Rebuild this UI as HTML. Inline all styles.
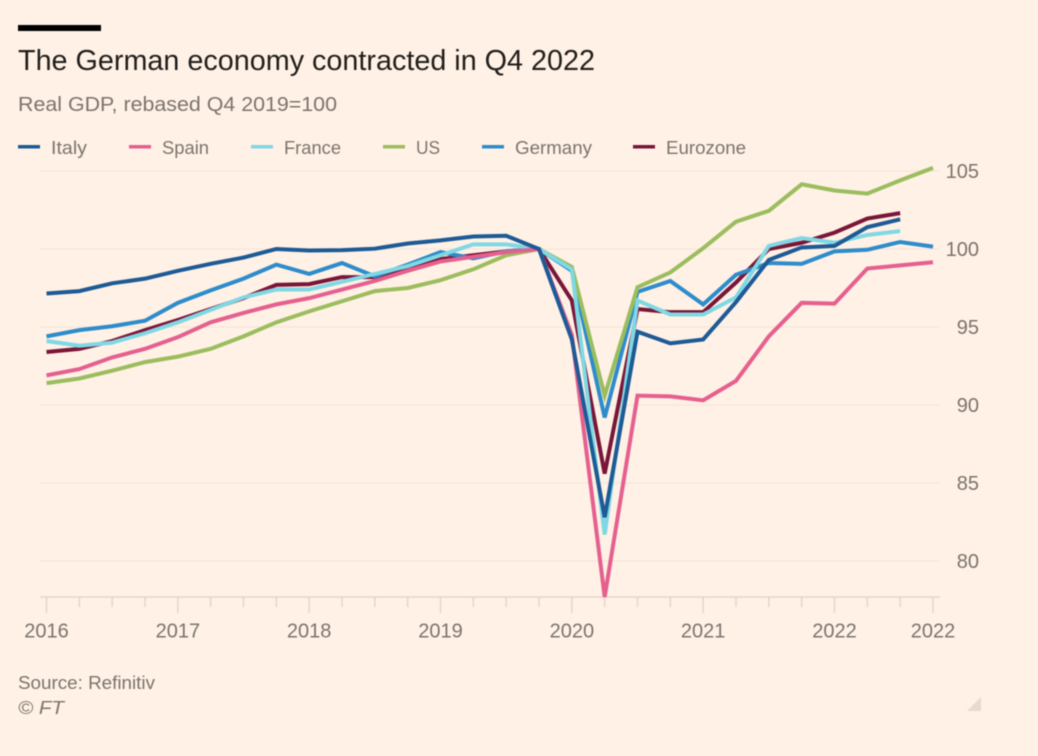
<!DOCTYPE html>
<html lang="en">
<head>
<meta charset="utf-8">
<title>The German economy contracted in Q4 2022</title>
<style>
html,body{margin:0;padding:0;background:#fff1e5;}
body{width:1038px;height:756px;overflow:hidden;}
svg{display:block;font-family:"Liberation Sans",sans-serif;filter:blur(0.4px);}
</style>
</head>
<body>
<svg id="chart" width="1038" height="756" viewBox="0 0 1038 756" xmlns="http://www.w3.org/2000/svg">
  <rect x="0" y="0" width="1038" height="756" fill="#fff1e5"/>
  <rect x="18" y="25" width="83" height="6" fill="#000"/>
  <text x="18" y="70" font-size="29" fill="#211e1c" textLength="577" lengthAdjust="spacingAndGlyphs">The German economy contracted in Q4 2022</text>
  <text x="18" y="111" font-size="20" fill="#7b746e" textLength="319" lengthAdjust="spacingAndGlyphs">Real GDP, rebased Q4 2019=100</text>

  <g font-size="18.5" fill="#7b746e">
    <g>
      <rect x="18" y="145" width="22" height="3.5" fill="#1d5a96"/>
      <text x="51" y="154" textLength="36" lengthAdjust="spacingAndGlyphs">Italy</text>
    </g>
    <g>
      <rect x="129" y="145" width="22" height="3.5" fill="#e5608f"/>
      <text x="162" y="154" textLength="47" lengthAdjust="spacingAndGlyphs">Spain</text>
    </g>
    <g>
      <rect x="251" y="145" width="22" height="3.5" fill="#7fd8e4"/>
      <text x="284" y="154" textLength="57" lengthAdjust="spacingAndGlyphs">France</text>
    </g>
    <g>
      <rect x="383" y="145" width="22" height="3.5" fill="#9bbd5e"/>
      <text x="416" y="154" textLength="24" lengthAdjust="spacingAndGlyphs">US</text>
    </g>
    <g>
      <rect x="482" y="145" width="22" height="3.5" fill="#2e8ccb"/>
      <text x="515" y="154" textLength="77" lengthAdjust="spacingAndGlyphs">Germany</text>
    </g>
    <g>
      <rect x="633" y="145" width="22" height="3.5" fill="#7a1638"/>
      <text x="666" y="154" textLength="80" lengthAdjust="spacingAndGlyphs">Eurozone</text>
    </g>
  </g>

  <g id="grid"></g>
  <g id="yaxis"></g>
  <g id="xaxis"></g>
  <g id="series"></g>

  <text x="18" y="689" font-size="18" fill="#7b746e" textLength="137" lengthAdjust="spacingAndGlyphs">Source: Refinitiv</text>
  <text x="18" y="714" font-size="18" font-style="italic" fill="#7b746e" textLength="46" lengthAdjust="spacingAndGlyphs">© FT</text>
  <polygon points="981,697 981,711 967,711" fill="#e6dbd3"/>
</svg>

<script>
const quarters = [
  "2016 Q1","2016 Q2","2016 Q3","2016 Q4",
  "2017 Q1","2017 Q2","2017 Q3","2017 Q4",
  "2018 Q1","2018 Q2","2018 Q3","2018 Q4",
  "2019 Q1","2019 Q2","2019 Q3","2019 Q4",
  "2020 Q1","2020 Q2","2020 Q3","2020 Q4",
  "2021 Q1","2021 Q2","2021 Q3","2021 Q4",
  "2022 Q1","2022 Q2","2022 Q3","2022 Q4"
];
const yTickValues = [80, 85, 90, 95, 100, 105];

const italyValues = [97.15,97.3,97.8,98.1,98.6,99.05,99.45,100,99.9,99.93,100.02,100.35,100.55,100.8,100.85,100,94.2,82.8,94.7,93.95,94.2,96.6,99.3,100.1,100.2,101.4,101.9];
const spainValues = [91.9,92.3,93.05,93.6,94.35,95.3,95.9,96.45,96.85,97.4,97.95,98.6,99.2,99.5,99.8,100,94.5,77.7,90.6,90.55,90.3,91.55,94.4,96.55,96.5,98.75,98.95,99.15];
const franceValues = [94.1,93.8,94.0,94.6,95.3,96.1,96.9,97.4,97.4,97.9,98.4,98.9,99.6,100.3,100.3,100,98.7,81.7,96.7,95.8,95.8,96.9,100.2,100.7,100.4,100.9,101.15];
const usValues = [91.4,91.7,92.2,92.75,93.1,93.6,94.4,95.3,96,96.65,97.3,97.5,98,98.7,99.6,100,98.85,90.6,97.55,98.5,100.05,101.75,102.45,104.15,103.75,103.55,104.4,105.2];
const germanyValues = [94.4,94.8,95.05,95.4,96.55,97.35,98.1,99,98.4,99.1,98.25,99,99.8,99.4,99.85,100,98.6,89.2,97.25,97.95,96.45,98.35,99.1,99.05,99.85,99.95,100.45,100.15];
const eurozoneValues = [93.4,93.6,94.1,94.8,95.45,96.15,96.85,97.7,97.75,98.2,98.2,98.8,99.35,99.6,99.85,100,96.7,85.6,96.15,95.95,95.95,97.85,100,100.4,101.05,101.95,102.3];

const NS = "http://www.w3.org/2000/svg";
const PLOT_LEFT = 40, PLOT_RIGHT = 940, AXIS_Y = 597;

function xScale(i) { return 46.5 + i * (933 - 46.5) / (quarters.length - 1); }
function yScale(v) { return 249 - (v - 100) * 15.6; }

function make(tag, attrs, parent) {
  const el = document.createElementNS(NS, tag);
  Object.keys(attrs).forEach(function (k) { el.setAttribute(k, attrs[k]); });
  parent.appendChild(el);
  return el;
}

const gridGroup = document.getElementById("grid");
const yGroup = document.getElementById("yaxis");
const xGroup = document.getElementById("xaxis");
const seriesGroup = document.getElementById("series");

yTickValues.forEach(function (v) {
  const line = make("line", { x1: PLOT_LEFT, x2: PLOT_RIGHT, y1: yScale(v), y2: yScale(v), stroke: "#f6e8dc", "stroke-width": 1.5 }, gridGroup);
  
  
  const label = make("text", { x: 979, y: yScale(v) + 7, "font-size": 20, fill: "#7b746e", "text-anchor": "end" }, yGroup);
  
  
  label.textContent = String(v);
});

const axisLine = make("line", { x1: PLOT_LEFT, x2: PLOT_RIGHT, y1: AXIS_Y, y2: AXIS_Y, stroke: "#e3d6cc", "stroke-width": 1.5 }, xGroup);



quarters.forEach(function (q, i) {
  const isYear = q.slice(-2) === "Q1";
  const isLast = i === quarters.length - 1;
  const major = isYear || isLast;
  const tick = make("line", { x1: xScale(i), x2: xScale(i), y1: AXIS_Y, y2: AXIS_Y + (major ? 16 : 10), stroke: "#e3d6cc", "stroke-width": 1.5 }, xGroup);
  
  
  if (major) {
    const label = make("text", { x: xScale(i), y: 637.5, "font-size": 20, fill: "#7b746e", "text-anchor": "middle" }, xGroup);
    
    
    label.textContent = q.slice(0, 4);
  }
});

function drawSeries(name, values, color) {
  const points = values.map(function (v, i) { return xScale(i).toFixed(2) + "," + yScale(v).toFixed(2); }).join(" ");
  const line = make("polyline", { points: points, fill: "none", stroke: color, "stroke-width": 4, "stroke-linejoin": "miter" }, seriesGroup);
  
  
}

drawSeries("eurozone", eurozoneValues, "#7a1638");
drawSeries("germany", germanyValues, "#2e8ccb");
drawSeries("us", usValues, "#9bbd5e");
drawSeries("france", franceValues, "#7fd8e4");
drawSeries("spain", spainValues, "#e5608f");
drawSeries("italy", italyValues, "#1d5a96");
</script>
</body>
</html>
